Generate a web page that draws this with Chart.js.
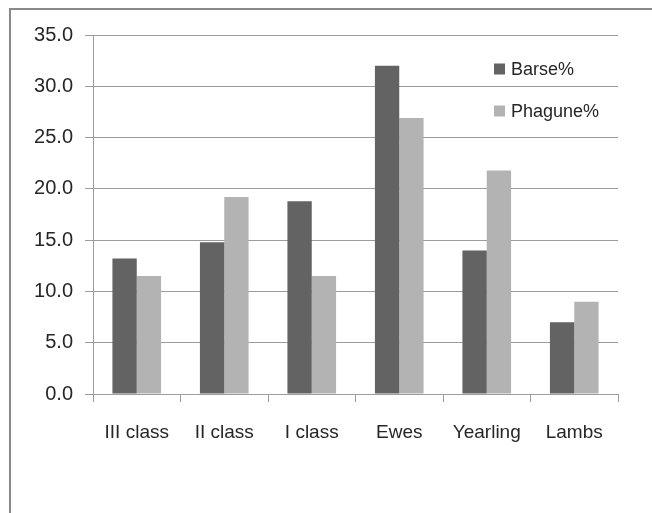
<!DOCTYPE html>
<html>
<head>
<meta charset="utf-8">
<script src="https://cdn.jsdelivr.net/npm/chart.js@4"></script>
<style>
  html, body { margin: 0; padding: 0; background: #ffffff; }
  canvas { display: block; }
</style>
</head>
<body>
<canvas id="chart" width="652" height="513"></canvas>
<script>
// Age/class groups of the flock and the share of each breed in them
const categories = ['III class', 'II class', 'I class', 'Ewes', 'Yearling', 'Lambs'];
const barseValues = [13.2, 14.8, 18.8, 32.0, 14.0, 7.0];
const phaguneValues = [11.5, 19.2, 11.5, 26.9, 21.8, 9.0];
const yTickValues = [0, 5, 10, 15, 20, 25, 30, 35];

const seriesNames = ['Barse%', 'Phagune%'];
const seriesColors = ['#636363', '#b3b3b3'];

const FONT = "'Liberation Sans', Arial, sans-serif";
const TEXT_COLOR = '#262626';
const GRID_COLOR = '#9c9c9c';

// Thin frame along the top and left edges of the page
const framePlugin = {
  id: 'frame',
  beforeDraw(chart) {
    const ctx = chart.ctx;
    ctx.save();
    ctx.strokeStyle = '#8a8a8a';
    ctx.lineWidth = 2;
    ctx.beginPath();
    ctx.moveTo(10, chart.height);
    ctx.lineTo(10, 9);
    ctx.lineTo(chart.width, 9);
    ctx.stroke();
    ctx.restore();
  }
};

// Legend placed inside the plot, at the upper right
const insideLegend = {
  id: 'insideLegend',
  afterDraw(chart) {
    const ctx = chart.ctx;
    const area = chart.chartArea;
    const x0 = area.right - 124;
    const rows = [area.top + 34, area.top + 76];
    ctx.save();
    ctx.font = '18px ' + FONT;
    ctx.textBaseline = 'middle';
    ctx.textAlign = 'left';
    chart.data.datasets.forEach((ds, i) => {
      const cy = rows[i];
      ctx.fillStyle = ds.backgroundColor;
      ctx.fillRect(x0, cy - 5.5, 11, 11);
      ctx.fillStyle = TEXT_COLOR;
      ctx.fillText(ds.label, x0 + 17, cy + 1);
    });
    ctx.restore();
  }
};

new Chart(document.getElementById('chart'), {
  type: 'bar',
  data: {
    labels: categories,
    datasets: [
      { label: seriesNames[0], data: barseValues, backgroundColor: seriesColors[0] },
      { label: seriesNames[1], data: phaguneValues, backgroundColor: seriesColors[1] }
    ]
  },
  options: {
    responsive: false,
    devicePixelRatio: 1,
    animation: false,
    datasets: {
      bar: { barPercentage: 1.0, categoryPercentage: 0.556, borderWidth: 0 }
    },
    layout: { padding: { left: 0, top: 35, right: 34, bottom: 0 } },
    plugins: {
      legend: { display: false },
      tooltip: { enabled: false },
      title: { display: false }
    },
    scales: {
      x: {
        grid: {
          offset: true,
          drawOnChartArea: false,
          drawTicks: true,
          tickLength: 8,
          color: GRID_COLOR,
          lineWidth: 1
        },
        border: { display: true, color: GRID_COLOR, width: 1 },
        ticks: {
          color: TEXT_COLOR,
          font: { family: FONT, size: 19 },
          padding: 19,
          maxRotation: 0,
          autoSkip: false
        },
        afterFit(scale) { scale.height = 119; }
      },
      y: {
        min: 0,
        max: 35,
        afterBuildTicks(scale) {
          scale.ticks = yTickValues.map(v => ({ value: v }));
        },
        grid: {
          drawTicks: true,
          tickLength: 8,
          color: GRID_COLOR,
          lineWidth: 1
        },
        border: { display: true, color: GRID_COLOR, width: 1 },
        ticks: {
          color: TEXT_COLOR,
          font: { family: FONT, size: 20 },
          padding: 12,
          callback: v => Number(v).toFixed(1)
        },
        afterFit(scale) { scale.width = 93; }
      }
    }
  },
  plugins: [framePlugin, insideLegend]
});
</script>
</body>
</html>
